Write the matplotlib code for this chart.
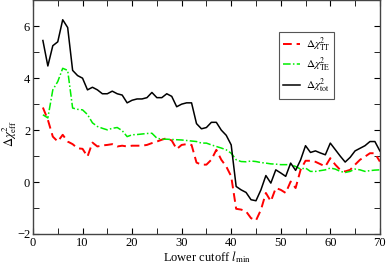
import matplotlib
matplotlib.use("Agg")
import matplotlib.pyplot as plt
from matplotlib.ticker import MultipleLocator

plt.rcParams["font.family"] = ["Liberation Serif", "DejaVu Serif"]
plt.rcParams["mathtext.fontset"] = "stix"

# ---------------------------------------------------------------------------
# Data
# ---------------------------------------------------------------------------
l_min = list(range(2, 71))

chi2_tt = [2.87, 2.4, 1.75, 1.56, 1.82, 1.56, 1.46, 1.3, 1.28, 0.98,
           1.52, 1.37, 1.41, 1.43, 1.46, 1.37, 1.4, 1.37, 1.4, 1.4,
           1.4, 1.43, 1.5, 1.56, 1.63, 1.69, 1.6, 1.27, 1.43, 1.46,
           1.43, 0.75, 0.67, 0.67, 0.86, 1.24, 0.86, 0.6, 0.22, -1.03,
           -1.06, -1.13, -1.39, -1.48, -1.07, -0.42, -0.74, -0.23, -0.3, -0.42,
           0.02, -0.23, 0.47, 0.82, 0.82, 0.78, 0.69, 0.6, 0.92, 0.67,
           0.47, 0.41, 0.47, 0.67, 0.86, 0.98, 1.11, 1.11, 0.79]

chi2_te = [2.59, 2.47, 3.55, 3.87, 4.38, 4.3, 2.85, 2.8, 2.78, 2.6,
           2.28, 2.14, 2.07, 2.01, 2.07, 2.1, 1.98, 1.75, 1.82, 1.83,
           1.85, 1.87, 1.88, 1.69, 1.65, 1.65, 1.64, 1.63, 1.62, 1.6,
           1.58, 1.56, 1.5, 1.5, 1.43, 1.37, 1.31, 1.24, 1.11, 0.86,
           0.79, 0.78, 0.81, 0.79, 0.75, 0.73, 0.7, 0.69, 0.67, 0.67,
           0.67, 0.6, 0.5, 0.54, 0.41, 0.41, 0.44, 0.47, 0.54, 0.5,
           0.41, 0.37, 0.41, 0.5, 0.47, 0.41, 0.44, 0.46, 0.47]

chi2_tot = [5.45, 4.47, 5.25, 5.4, 6.25, 5.95, 4.3, 4.1, 4.0, 3.55,
            3.65, 3.55, 3.4, 3.4, 3.5, 3.4, 3.35, 3.05, 3.15, 3.2,
            3.2, 3.25, 3.45, 3.25, 3.25, 3.4, 3.3, 2.9, 3.0, 3.05,
            3.05, 2.25, 2.05, 2.1, 2.3, 2.3, 2.0, 1.8, 1.43, -0.17,
            -0.3, -0.4, -0.68, -0.72, -0.3, 0.25, -0.04, 0.47, 0.35, 0.22,
            0.73, 0.45, 0.85, 1.4, 1.14, 1.2, 1.12, 1.05, 1.5, 1.25,
            1.0, 0.77, 0.95, 1.2, 1.3, 1.4, 1.56, 1.56, 1.2]


# ---------------------------------------------------------------------------
# Figure
# ---------------------------------------------------------------------------
fig = plt.figure(figsize=(3.88, 2.65), dpi=100)
ax = fig.add_axes([0.085, 0.117, 0.894, 0.882])

ax.plot(l_min, chi2_tt, color="#ff0000", lw=1.4, ls=(0, (4.5, 2.5)),
        label=r"$\Delta\chi^2_{\rm TT}$")
ax.plot(l_min, chi2_te, color="#00ee00", lw=1.1, ls=(0, (5, 1.5, 1, 1.5)),
        label=r"$\Delta\chi^2_{\rm TE}$")
ax.plot(l_min, chi2_tot, color="black", lw=1.1,
        label=r"$\Delta\chi^2_{\rm tot}$")

ax.set_xlim(0, 70)
ax.set_ylim(-2, 7)
ax.xaxis.set_major_locator(MultipleLocator(10))
ax.xaxis.set_minor_locator(MultipleLocator(5))
ax.yaxis.set_major_locator(MultipleLocator(2))
ax.yaxis.set_minor_locator(MultipleLocator(1))
ax.tick_params(which="both", direction="in", top=True, right=True,
               labelsize=9, pad=2)
ax.tick_params(which="major", length=4)
ax.tick_params(which="minor", length=4)
for s in ax.spines.values():
    s.set_linewidth(1.0)
    s.set_color("#444444")

ax.set_xlabel(r"Lower cutoff $l_{\rm min}$", fontsize=9, labelpad=0)
ax.set_ylabel(r"$\Delta\chi^2_{\rm eff}$", fontsize=9)
ax.yaxis.set_label_coords(-0.04, 0.43)

leg = ax.legend(loc="upper right", bbox_to_anchor=(0.885, 0.89),
                fontsize=8, handlelength=1.6, handletextpad=0.5,
                borderpad=0.35, labelspacing=0.25, fancybox=False,
                framealpha=1)
leg.get_frame().set_edgecolor("#555555")
leg.get_frame().set_linewidth(0.8)

fig.savefig("out.png", dpi=100)
